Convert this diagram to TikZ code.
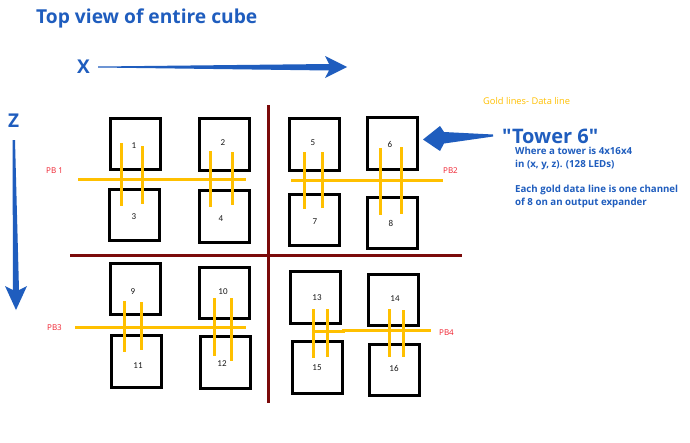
\documentclass[tikz,border=0pt]{standalone}
\usepackage{fontspec}
\setmainfont{Open Sans}
\newfontfamily\qfont{Open Sans}
\newfontfamily\numfont{Carlito}
\definecolor{tblue}{HTML}{1F5DBE}
\definecolor{gold}{HTML}{FFC000}
\definecolor{darkred}{HTML}{7B0A0A}
\definecolor{pbred}{HTML}{F0202E}
\begin{document}
\begin{tikzpicture}[x=1pt,y=-1pt,
  tbox/.style={draw=black, line width=3pt, minimum width=50pt, minimum height=51.5pt, inner sep=0pt},
  num/.style={font=\numfont\fontsize{9}{9}\selectfont, text=black!90, inner sep=0pt},
  goldline/.style={draw=gold, line width=3pt},
  axisline/.style={draw=darkred, line width=3pt},
  pblabel/.style={font=\fontsize{8}{9}\selectfont, text=pbred, anchor=base west, inner sep=0pt},
  bluetext/.style={text=tblue, font=\bfseries\fontsize{#1}{#1}\selectfont, anchor=base west, inner sep=0pt},
  bluearrow/.style={fill=tblue, draw=none}
]
\fill[white] (0,0) rectangle (690,442);
\useasboundingbox (0,0) rectangle (690,442);

% titles
\node[bluetext=19.2] (title) at (36,23) {Top view of entire cube};
\node[bluetext=19] (xlab) at (77,73) {X};
\node[bluetext=19] (zlab) at (8,127) {Z};
\node[bluetext=20] (tower) at (502,143) {\qfont\bfseries "Tower 6"};
\node[anchor=base west, inner sep=0pt, text=gold, font=\fontsize{9.3}{9}\selectfont] (gold) at (483,104) {Gold lines- Data line};
\node[anchor=base west, inner sep=0pt, text=tblue, font=\bfseries\fontsize{9.7}{13}\selectfont, align=left] (desc1) at (515,167) {Where a tower is 4x16x4\\in (x, y, z). (128 LEDs)};
\node[anchor=base west, inner sep=0pt, text=tblue, font=\bfseries\fontsize{9.7}{13}\selectfont, align=left] (desc2) at (515,205) {Each gold data line is one channel\\of 8 on an output expander};

% arrows
\fill[bluearrow] (98,66.5) -- (329,64) -- (325,56) -- (347,67) -- (325,78) -- (329,70.5) -- (98,67.5) -- cycle;
\fill[bluearrow] (12.5,140) -- (15,140) -- (19,290) -- (27,286) -- (16,310) -- (5,286) -- (13,290) -- cycle;
\fill[bluearrow] (493,134.5) -- (444,132) -- (440,126) -- (423,139.5) -- (440,151) -- (444,143.5) -- (493,136.5) -- cycle;

% dark red dividers
\draw[axisline] (268,105) -- (268,403);
\draw[axisline] (70,255) -- (462,255);

% towers
\node[tbox] (b1) at (135,144) {};
\node[tbox] (b2) at (224.5,144.5) {};
\node[tbox] (b3) at (134,215) {};
\node[tbox] (b4) at (224.5,216.5) {};
\node[tbox] (b5) at (314.5,144.5) {};
\node[tbox] (b6) at (392.5,143.5) {};
\node[tbox] (b7) at (314,220) {};
\node[tbox] (b8) at (392.5,223) {};
\node[tbox] (b9) at (135.5,289) {};
\node[tbox] (b10) at (224.5,293) {};
\node[tbox] (b11) at (136,361.5) {};
\node[tbox] (b12) at (225.5,362.5) {};
\node[tbox] (b13) at (315.5,297.5) {};
\node[tbox] (b14) at (393.5,300) {};
\node[tbox] (b15) at (317,367.5) {};
\node[tbox] (b16) at (394.5,370) {};

% numbers
\node[num] (n1) at (134,146) {1};
\node[num] (n2) at (223,143) {2};
\node[num] (n3) at (134,217) {3};
\node[num] (n4) at (221,219) {4};
\node[num] (n5) at (313,143) {5};
\node[num] (n6) at (390,144) {6};
\node[num] (n7) at (315,222) {7};
\node[num] (n8) at (391,223) {8};
\node[num] (n9) at (133,292) {9};
\node[num] (n10) at (223,292) {10};
\node[num] (n11) at (138,366) {11};
\node[num] (n12) at (222,364) {12};
\node[num] (n13) at (317,298) {13};
\node[num] (n14) at (395,299) {14};
\node[num] (n15) at (317,368) {15};
\node[num] (n16) at (394,368) {16};

% gold data lines
\draw[goldline] (78,179) -- (246,179);
\draw[goldline] (121,143) -- (121,206);
\draw[goldline] (142,146) -- (142,204);
\draw[goldline] (210,151) -- (210,207);
\draw[goldline] (232,152) -- (232,205);

\draw[goldline] (291,180) -- (443,180);
\draw[goldline] (304,152) -- (304,209);
\draw[goldline] (322,152) -- (322,208);
\draw[goldline] (380,148) -- (380,215);
\draw[goldline] (401,147) -- (401,214);

\draw[goldline] (75,327) -- (246,327);
\draw[goldline] (124,301) -- (124,352);
\draw[goldline] (141,302) -- (141,350);
\draw[goldline] (214,298) -- (214,356);
\draw[goldline] (231,298) -- (231,361);

\draw[goldline] (313,331.5) -- (343,331.5) -- (343,330) -- (431,330);
\draw[goldline] (313,309) -- (313,358);
\draw[goldline] (327,309) -- (327,357);
\draw[goldline] (389,309) -- (389,357);
\draw[goldline] (403,310) -- (403,357);

% PB labels
\node[pblabel] (pb1) at (46,173) {PB 1};
\node[pblabel] (pb2) at (443,173) {PB2};
\node[pblabel] (pb3) at (47,330) {PB3};
\node[pblabel] (pb4) at (439,335) {PB4};
\end{tikzpicture}
\end{document}
